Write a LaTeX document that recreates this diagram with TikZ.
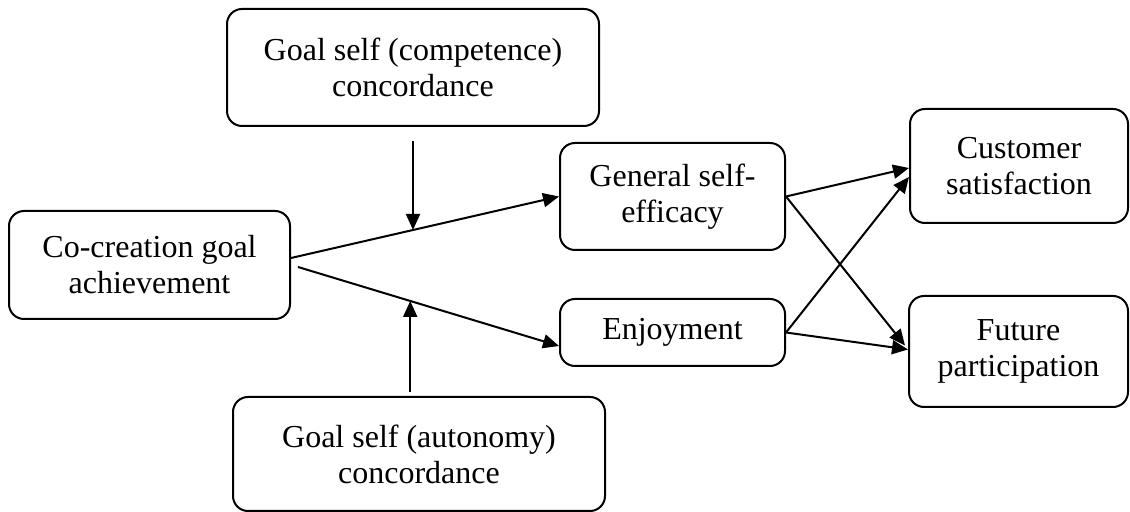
\documentclass[tikz,border=0pt]{standalone}
\usepackage{fontspec}
\setmainfont{Liberation Serif}
\usetikzlibrary{arrows.meta, positioning, calc}

\begin{document}
\begin{tikzpicture}[x=0.5pt, y=-0.5pt, >={Triangle[length=8pt,width=7pt]}, line width=1pt]
    \tikzset{
        block/.style={rectangle, draw, rounded corners=7.5pt, align=center, inner sep=0pt, font=\fontsize{16}{18}\selectfont},
        line/.style={draw, ->}
    }
    \useasboundingbox (0,0) rectangle (1130,512);

    \node (Comp) [block, minimum width=186pt, minimum height=58.5pt] at (413,67.5) {Goal self (competence)\\concordance};
    \node (Achieve) [block, minimum width=140.5pt, minimum height=54pt] at (149.5,265) {Co-creation goal\\achievement};
    \node (Auto) [block, minimum width=186pt, minimum height=57pt] at (419,454) {Goal self (autonomy)\\concordance};

    \node (Efficacy) [block, minimum width=112.5pt, minimum height=53.5pt] at (672.5,196.5) {General self-\\efficacy};
    \node (Enjoy) [block, minimum width=112.5pt, minimum height=33.5pt] at (672.5,332.5) {Enjoyment};

    \node (Satisf) [block, minimum width=109pt, minimum height=57pt] at (1019,166) {Customer\\satisfaction};
    \node (Future) [block, minimum width=109.5pt, minimum height=55.5pt] at (1018.5,351.5) {Future\\participation};

    \path [line] ([yshift=3.5pt]Achieve.east) -- coordinate[pos=0.456] (M1) (Efficacy.west);
    \path [line] ([xshift=3.5pt,yshift=-1pt]Achieve.east) -- coordinate[pos=0.43] (M2) ([yshift=-6.75pt]Enjoy.west);

    \path [line] ([yshift=-7pt]Comp.south) -- (Comp.south |- M1);
    \path [line] ($(Auto.north -| M2)+(0,-4)$) -- (M2);

    \path [line] (Efficacy.east) -- ([yshift=-1pt]Satisf.west);
    \path [line] (Efficacy.east) -- ($(Future.west)+(-3,-6)$);
    \path [line] (Enjoy.east) -- ([yshift=-5.5pt]Satisf.west);
    \path [line] (Enjoy.east) -- ([yshift=1pt]Future.west);

\end{tikzpicture}
\end{document}
